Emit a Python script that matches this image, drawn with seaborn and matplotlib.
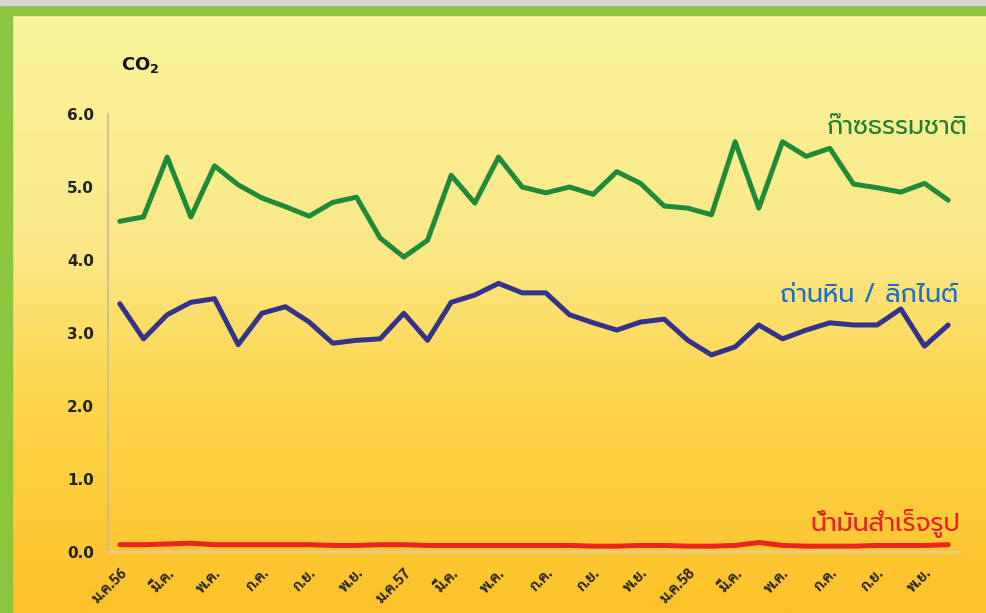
import matplotlib
matplotlib.use("Agg")
import matplotlib.pyplot as plt
import numpy as np
import pandas as pd
import seaborn as sns
from matplotlib.colors import LinearSegmentedColormap
from matplotlib.patches import Rectangle

sns.set_theme(style="white")
plt.rcParams["font.family"] = ["DejaVu Sans", "Noto Sans Thai Looped", "Noto Sans Thai"]

# monthly values, Jan 2013 (ม.ค.56) .. Dec 2015
gas = [4.53, 4.59, 5.41, 4.59, 5.29, 5.03, 4.85, 4.73, 4.60, 4.79, 4.86, 4.30,
       4.04, 4.27, 5.16, 4.78, 5.41, 5.00, 4.92, 5.00, 4.90, 5.21, 5.05, 4.74,
       4.71, 4.62, 5.62, 4.71, 5.62, 5.42, 5.53, 5.04, 4.99, 4.93, 5.05, 4.82]
coal = [3.40, 2.92, 3.25, 3.42, 3.47, 2.84, 3.27, 3.36, 3.15, 2.86, 2.90, 2.92,
        3.27, 2.90, 3.42, 3.52, 3.68, 3.55, 3.55, 3.25, 3.14, 3.04, 3.15, 3.19,
        2.90, 2.70, 2.81, 3.11, 2.92, 3.04, 3.14, 3.11, 3.11, 3.33, 2.82, 3.11]
oil = [0.10, 0.10, 0.11, 0.12, 0.10, 0.10, 0.10, 0.10, 0.10, 0.09, 0.09, 0.10,
       0.10, 0.09, 0.09, 0.09, 0.09, 0.09, 0.09, 0.09, 0.08, 0.08, 0.09, 0.09,
       0.08, 0.08, 0.09, 0.13, 0.09, 0.08, 0.08, 0.08, 0.09, 0.09, 0.09, 0.10]
tick_labels = ["ม.ค.56", "มี.ค.", "พ.ค.", "ก.ค.", "ก.ย.", "พ.ย.",
               "ม.ค.57", "มี.ค.", "พ.ค.", "ก.ค.", "ก.ย.", "พ.ย.",
               "ม.ค.58", "มี.ค.", "พ.ค.", "ก.ค.", "ก.ย.", "พ.ย."]
series_names = ["ก๊าซธรรมชาติ", "ถ่านหิน / ลิกไนต์", "น้ำมันสำเร็จรูป"]

months = list(range(len(gas)))
df = pd.DataFrame({
    "month": months * 3,
    "co2": gas + coal + oil,
    "fuel": [series_names[0]] * 36 + [series_names[1]] * 36 + [series_names[2]] * 36,
})
colors = {series_names[0]: "#1f8a3a", series_names[1]: "#34338c", series_names[2]: "#e8261e"}

fig = plt.figure(figsize=(9.86, 6.13), dpi=100)

# background: gray strip, green frame, yellow gradient
bg = fig.add_axes([0, 0, 1, 1])
bg.set_axis_off()
grad = LinearSegmentedColormap.from_list(
    "bg", [(0, "#fdc22a"), (0.35, "#fed54a"), (0.6, "#fae888"), (1, "#fbf59c")])
bg.imshow(np.linspace(0, 1, 256).reshape(-1, 1), cmap=grad, aspect="auto",
          extent=[0, 1, 0, 1], origin="lower")
bg.add_patch(Rectangle((0, 0), 12 / 986, 1, color="#8cc63f", transform=bg.transAxes))
bg.add_patch(Rectangle((0, 1 - 15 / 613), 1, 15 / 613, color="#8cc63f", transform=bg.transAxes))
bg.add_patch(Rectangle((0, 1 - 5 / 613), 1, 5 / 613, color="#d5d5d5", transform=bg.transAxes))
bg.set_xlim(0, 1)
bg.set_ylim(0, 1)

ax = fig.add_axes([108 / 986, 1 - 552 / 613, (960 - 108) / 986, (552 - 114) / 613])
ax.set_facecolor("none")
sns.lineplot(data=df, x="month", y="co2", hue="fuel", palette=colors,
             linewidth=3.6, ax=ax, legend=False)

ax.set_xlim(-0.5, 35.5)
ax.set_ylim(0, 6)
ax.set_yticks(np.arange(0, 6.1, 1.0))
ax.set_yticklabels([f"{v:.1f}" for v in np.arange(0, 6.1, 1.0)],
                   fontsize=11, fontweight="bold", color="#222222")
ax.set_xticks(months[::2])
ax.set_xticklabels(tick_labels, rotation=45, ha="right", rotation_mode="anchor",
                   fontsize=10.5, fontweight="bold", color="#222222",
                   family=["Sarabun", "Noto Sans Thai Looped", "DejaVu Sans"])
ax.tick_params(axis="both", length=4, color="#c8c0a0", width=1, pad=6)
ax.set_xlabel("")
ax.set_ylabel("")
for side in ["top", "right"]:
    ax.spines[side].set_visible(False)
ax.spines["left"].set_color("#c8bf98")
ax.spines["bottom"].set_color("#d8d0b0")

fig.text(140 / 986, 1 - 65 / 613, r"$\mathbf{CO_2}$", fontsize=13, color="#111111",
         ha="center", va="center")

label_font = ["Prompt", "Noto Sans Thai", "DejaVu Sans"]
fig.text(968 / 986, 1 - 128 / 613, series_names[0], color="#1e8038", fontsize=18.3,
         ha="right", va="center", family=label_font)
fig.text(958 / 986, 1 - 295 / 613, series_names[1], color="#1f6fc2", fontsize=18.3,
         ha="right", va="center", family=label_font)
fig.text(960 / 986, 1 - 523 / 613, series_names[2], color="#e8202a", fontsize=18.3,
         ha="right", va="center", family=label_font)

fig.savefig("out.png", dpi=100)
